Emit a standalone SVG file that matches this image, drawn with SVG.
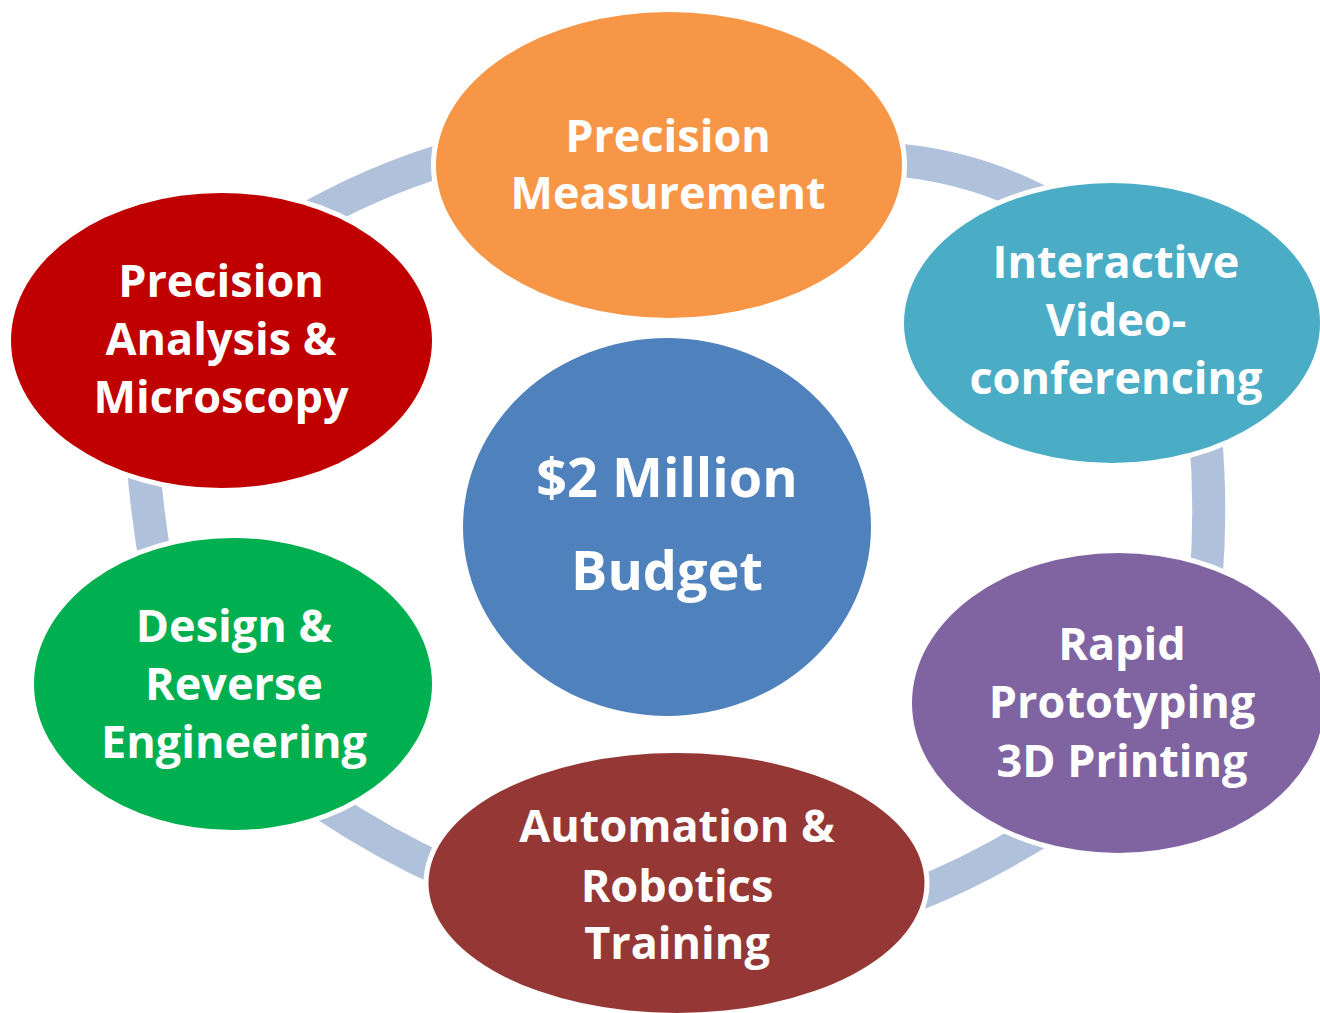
<svg xmlns="http://www.w3.org/2000/svg" width="1320" height="1013" viewBox="0 0 1320 1013">
<style>
.node{stroke:#ffffff;stroke-width:10;paint-order:stroke}
.lbl{font-family:"Open Sans",Lato,"Liberation Sans",sans-serif;font-weight:bold;font-size:45px;fill:#ffffff;text-anchor:middle;font-variant-ligatures:none}
.big{font-size:54px}
.ring{fill:none;stroke:#b0c1dc;stroke-width:33;stroke-linecap:butt}
</style>
<rect width="1320" height="1013" fill="#ffffff"/>
<g id="connectors">
<path class="ring" d="M300,223 Q370,182 450,158"/>
<path class="ring" d="M885,159 Q980,165 1060,213"/>
<path class="ring" d="M1205,430 Q1212,505 1206,580"/>
<path class="ring" d="M910,897 Q980,870 1050,825"/>
<path class="ring" d="M322,803 Q385,845 448,873"/>
<path class="ring" d="M143,460 Q147,515 157,570"/>
</g>
<g id="node-precision-measurement">
<ellipse class="node" cx="669" cy="165" rx="233" ry="153" fill="#f79646"/>
<text class="lbl" x="668" y="152">Precision</text>
<text class="lbl" x="668" y="209">Measurement</text>
</g>
<g id="node-videoconferencing">
<ellipse class="node" cx="1112" cy="323" rx="208" ry="140" fill="#4bacc6"/>
<text class="lbl" x="1116" y="278">Interactive</text>
<text class="lbl" x="1116" y="336">Video-</text>
<text class="lbl" x="1116" y="394">conferencing</text>
</g>
<g id="node-rapid-prototyping">
<ellipse class="node" cx="1118" cy="703" rx="206" ry="150" fill="#8064a2"/>
<text class="lbl" x="1122" y="660">Rapid</text>
<text class="lbl" x="1122" y="718">Prototyping</text>
<text class="lbl" x="1122" y="777">3D Printing</text>
</g>
<g id="node-automation">
<ellipse class="node" cx="676.5" cy="883" rx="248" ry="130" fill="#953735"/>
<text class="lbl" x="677" y="842">Automation &amp;</text>
<text class="lbl" x="677" y="902">Robotics</text>
<text class="lbl" x="677" y="959">Training</text>
</g>
<g id="node-design">
<ellipse class="node" cx="233" cy="684" rx="199" ry="146" fill="#00b050"/>
<text class="lbl" x="234" y="642">Design &amp;</text>
<text class="lbl" x="234" y="700">Reverse</text>
<text class="lbl" x="234" y="758">Engineering</text>
</g>
<g id="node-precision-analysis">
<ellipse class="node" cx="221.5" cy="340.5" rx="210.5" ry="147.5" fill="#c00000"/>
<text class="lbl" x="221" y="297">Precision</text>
<text class="lbl" x="221" y="355">Analysis &amp;</text>
<text class="lbl" x="221" y="413">Microscopy</text>
</g>
<g id="node-budget">
<ellipse class="node" cx="667" cy="527" rx="204" ry="189" fill="#4f81bd"/>
<text class="lbl big" x="667" y="497">$2 Million</text>
<text class="lbl big" x="667" y="590">Budget</text>
</g>
</svg>
